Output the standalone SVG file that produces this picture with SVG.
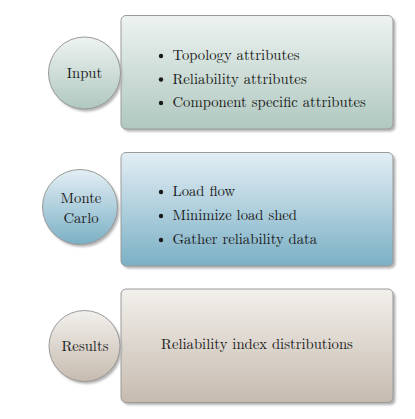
<svg xmlns="http://www.w3.org/2000/svg" width="415" height="419" viewBox="0 0 415 419">
<defs>
<linearGradient id="g1" x1="0" y1="0" x2="0" y2="1"><stop offset="0" stop-color="#eef3f1"/><stop offset="1" stop-color="#afc8bf"/></linearGradient>
<linearGradient id="g2" x1="0" y1="0" x2="0" y2="1"><stop offset="0" stop-color="#e3eef4"/><stop offset="1" stop-color="#7bb0c5"/></linearGradient>
<linearGradient id="g3" x1="0" y1="0" x2="0" y2="1"><stop offset="0" stop-color="#f2f0ec"/><stop offset="1" stop-color="#c7bbaf"/></linearGradient>
<filter id="sh" x="-10%" y="-10%" width="130%" height="130%"><feGaussianBlur stdDeviation="0.8"/></filter>
</defs>
<style>
.box{stroke:#9a9a9a;stroke-width:1}
.shadow{fill:#b4b4b4;filter:url(#sh)}
.circ{stroke:#999;stroke-width:1}
text{fill:#1a1a1a}
.c{text-anchor:middle}
.dot{fill:#1a1a1a}
</style>
<rect width="415" height="419" fill="#ffffff"/>
<g font-family="Latin Modern Roman, Liberation Serif, serif" font-size="14.7">
<g id="box-input">
<rect class="shadow" x="123.5" y="18" width="272" height="113.5" rx="5"/>
<rect class="box" x="121" y="15.5" width="272" height="113.5" rx="5" fill="url(#g1)"/>
<circle class="dot" cx="161" cy="56" r="2.2"/>
<text x="172.5" y="60">Topology attributes</text>
<circle class="dot" cx="161" cy="79.5" r="2.2"/>
<text x="172.5" y="83.5">Reliability attributes</text>
<circle class="dot" cx="161" cy="103" r="2.2"/>
<text x="172.5" y="107">Component specific attributes</text>
</g>
<g id="box-montecarlo">
<rect class="shadow" x="123.5" y="155" width="272" height="113.5" rx="5"/>
<rect class="box" x="121" y="152.5" width="272" height="113.5" rx="5" fill="url(#g2)"/>
<circle class="dot" cx="161" cy="192" r="2.2"/>
<text x="172.5" y="196">Load flow</text>
<circle class="dot" cx="161" cy="216" r="2.2"/>
<text x="172.5" y="220">Minimize load shed</text>
<circle class="dot" cx="161" cy="240" r="2.2"/>
<text x="172.5" y="244">Gather reliability data</text>
</g>
<g id="box-results">
<rect class="shadow" x="123.5" y="291.5" width="272" height="113.5" rx="5"/>
<rect class="box" x="121" y="289" width="272" height="113.5" rx="5" fill="url(#g3)"/>
<text class="c" x="257" y="349">Reliability index distributions</text>
</g>
<g id="node-input">
<circle class="shadow" cx="86.5" cy="75.5" r="36"/>
<circle class="circ" cx="84.5" cy="73" r="36" fill="url(#g1)"/>
<text class="c" x="84.5" y="77.5">Input</text>
</g>
<g id="node-montecarlo">
<circle class="shadow" cx="82" cy="209.5" r="37.5"/>
<circle class="circ" cx="80" cy="207" r="37.5" fill="url(#g2)"/>
<text class="c" x="81" y="202.5">Monte</text>
<text class="c" x="81" y="222.5">Carlo</text>
</g>
<g id="node-results">
<circle class="shadow" cx="86.5" cy="348.5" r="35.5"/>
<circle class="circ" cx="84.5" cy="346" r="35.5" fill="url(#g3)"/>
<text class="c" x="85" y="350.5">Results</text>
</g>
</g>
</svg>
